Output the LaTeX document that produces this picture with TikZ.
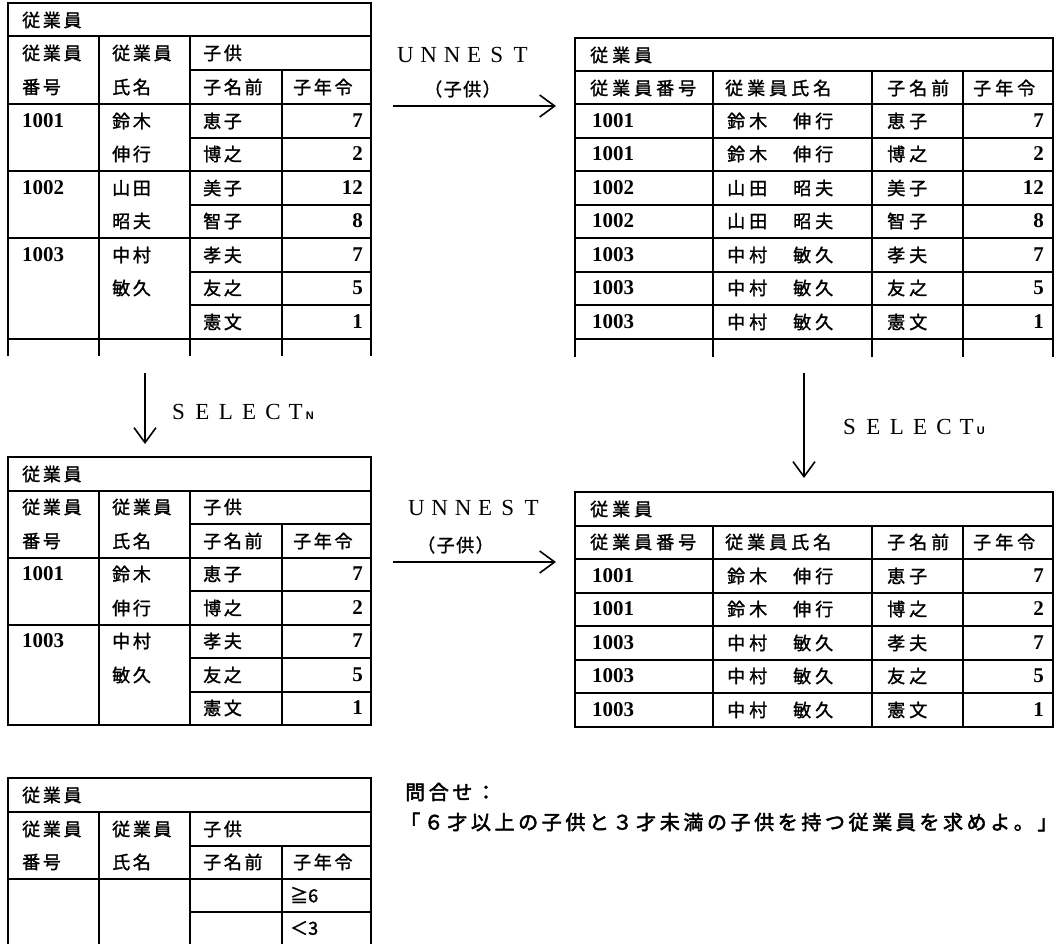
\documentclass[tikz,border=0pt]{standalone}
\usepackage{fontspec}
\usetikzlibrary{arrows.meta}
\newfontfamily\jp[FakeBold=1.5]{Noto Sans CJK JP}
\newfontfamily\jpq[FakeBold=2.5]{Noto Sans CJK JP}
\newfontfamily\ser{Liberation Serif}
\newfontfamily\sns{Liberation Sans}
\newlength\pitch
\makeatletter
\def\sptext#1{\spt@aux#1\@nil}
\def\spt@aux#1{\ifx#1\@nil\else\makebox[\pitch][l]{#1}\expandafter\spt@aux\fi}
\makeatother
\newcommand\fA{\jp\fontsize{18}{18}\selectfont\setlength\pitch{20.7pt}}
\newcommand\fB{\jp\fontsize{18}{18}\selectfont\setlength\pitch{22pt}}
\newcommand\fN{\ser\bfseries\fontsize{21}{21}\selectfont}
\newcommand\fL{\ser\fontsize{23}{23}\selectfont\setlength\pitch{23.3pt}}
\newcommand\fP{\jp\fontsize{18}{18}\selectfont\setlength\pitch{19.5pt}}
\newcommand\fQ{\jpq\fontsize{20}{20}\selectfont\setlength\pitch{23.6pt}}
\newcommand\subfont{\sns\bfseries\fontsize{11}{11}\selectfont}
\newcommand\nm[2]{\sptext{#1}\kern\pitch\sptext{#2}}
\tikzset{
  tl/.style={anchor=west, inner sep=0pt},
  tr/.style={anchor=east, inner sep=0pt},
  rule/.style={line width=2pt, line cap=rect},
  arr/.style={line width=1.6pt, -{Straight Barb[length=15pt,width=22pt]}},
}
\begin{document}
\begin{tikzpicture}[x=1pt,y=-1pt]
\useasboundingbox (0,0) rectangle (1058,943);
% ---------------- Table 1 ----------------
\draw[rule] (8,355) -- (8,3) -- (371,3) -- (371,355);
\draw[rule] (8,36) -- (371,36);
\draw[rule] (99,36) -- (99,355);
\draw[rule] (190,36) -- (190,355);
\draw[rule] (190,70) -- (371,70);
\draw[rule] (282,70) -- (282,355);
\foreach \yy in {104,171,238,338.5} \draw[rule] (8,\yy) -- (371,\yy);
\foreach \yy in {137.5,204.5,271.5,305} \draw[rule] (190,\yy) -- (371,\yy);
\node[tl,font=\fA] (t1ttl) at (22,20) {\sptext{従業員}};
\node[tl,font=\fA] (t1h1a) at (22,53) {\sptext{従業員}};
\node[tl,font=\fA] (t1h1b) at (22,87) {\sptext{番号}};
\node[tl,font=\fA] (t1h2a) at (112,53) {\sptext{従業員}};
\node[tl,font=\fA] (t1h2b) at (112,87) {\sptext{氏名}};
\node[tl,font=\fA] (t1h3) at (203,53) {\sptext{子供}};
\node[tl,font=\fA] (t1h4) at (203,87) {\sptext{子名前}};
\node[tl,font=\fA] (t1h5) at (293,87) {\sptext{子年令}};
\node[tl,font=\fN] (t1i1) at (22,121) {1001};
\node[tl,font=\fN] (t1i2) at (22,188) {1002};
\node[tl,font=\fN] (t1i3) at (22,255) {1003};
\node[tl,font=\fA] (t1n1) at (112,121) {\sptext{鈴木}};
\node[tl,font=\fA] (t1n2) at (112,154) {\sptext{伸行}};
\node[tl,font=\fA] (t1n3) at (112,188) {\sptext{山田}};
\node[tl,font=\fA] (t1n4) at (112,221) {\sptext{昭夫}};
\node[tl,font=\fA] (t1n5) at (112,255) {\sptext{中村}};
\node[tl,font=\fA] (t1n6) at (112,288) {\sptext{敏久}};
\node[tl,font=\fA] (t1c1) at (203,121) {\sptext{恵子}};
\node[tl,font=\fA] (t1c2) at (203,154) {\sptext{博之}};
\node[tl,font=\fA] (t1c3) at (203,188) {\sptext{美子}};
\node[tl,font=\fA] (t1c4) at (203,221) {\sptext{智子}};
\node[tl,font=\fA] (t1c5) at (203,255) {\sptext{孝夫}};
\node[tl,font=\fA] (t1c6) at (203,288) {\sptext{友之}};
\node[tl,font=\fA] (t1c7) at (203,322) {\sptext{憲文}};
\node[tr,font=\fN] (t1a1) at (363,121) {7};
\node[tr,font=\fN] (t1a2) at (363,154) {2};
\node[tr,font=\fN] (t1a3) at (363,188) {12};
\node[tr,font=\fN] (t1a4) at (363,221) {8};
\node[tr,font=\fN] (t1a5) at (363,255) {7};
\node[tr,font=\fN] (t1a6) at (363,288) {5};
\node[tr,font=\fN] (t1a7) at (363,322) {1};
% ---------------- Table 2 ----------------
\draw[rule] (575,356) -- (575,38) -- (1053,38) -- (1053,356);
\draw[rule] (575,71) -- (1053,71);
\foreach \xx in {713,872,963} \draw[rule] (\xx,71) -- (\xx,356);
\foreach \yy in {104,137.5,171,204.5,238,271.5,305,338.5} \draw[rule] (575,\yy) -- (1053,\yy);
\node[tl,font=\fB] (t2ttl) at (590,55) {\sptext{従業員}};
\node[tl,font=\fB] (t2h1) at (590,88) {\sptext{従業員番号}};
\node[tl,font=\fB] (t2h2) at (725,88) {\sptext{従業員氏名}};
\node[tl,font=\fB] (t2h3) at (887,88) {\sptext{子名前}};
\node[tl,font=\fB] (t2h4) at (973,88) {\sptext{子年令}};
\node[tl,font=\fN] (t2i1) at (592,121) {1001};
\node[tl,font=\fN] (t2i2) at (592,154) {1001};
\node[tl,font=\fN] (t2i3) at (592,188) {1002};
\node[tl,font=\fN] (t2i4) at (592,221) {1002};
\node[tl,font=\fN] (t2i5) at (592,255) {1003};
\node[tl,font=\fN] (t2i6) at (592,288) {1003};
\node[tl,font=\fN] (t2i7) at (592,322) {1003};
\node[tl,font=\fB] (t2n1) at (727,121) {\nm{鈴木}{伸行}};
\node[tl,font=\fB] (t2n2) at (727,154) {\nm{鈴木}{伸行}};
\node[tl,font=\fB] (t2n3) at (727,188) {\nm{山田}{昭夫}};
\node[tl,font=\fB] (t2n4) at (727,221) {\nm{山田}{昭夫}};
\node[tl,font=\fB] (t2n5) at (727,255) {\nm{中村}{敏久}};
\node[tl,font=\fB] (t2n6) at (727,288) {\nm{中村}{敏久}};
\node[tl,font=\fB] (t2n7) at (727,322) {\nm{中村}{敏久}};
\node[tl,font=\fB] (t2c1) at (887,121) {\sptext{恵子}};
\node[tl,font=\fB] (t2c2) at (887,154) {\sptext{博之}};
\node[tl,font=\fB] (t2c3) at (887,188) {\sptext{美子}};
\node[tl,font=\fB] (t2c4) at (887,221) {\sptext{智子}};
\node[tl,font=\fB] (t2c5) at (887,255) {\sptext{孝夫}};
\node[tl,font=\fB] (t2c6) at (887,288) {\sptext{友之}};
\node[tl,font=\fB] (t2c7) at (887,322) {\sptext{憲文}};
\node[tr,font=\fN] (t2a1) at (1044,121) {7};
\node[tr,font=\fN] (t2a2) at (1044,154) {2};
\node[tr,font=\fN] (t2a3) at (1044,188) {12};
\node[tr,font=\fN] (t2a4) at (1044,221) {8};
\node[tr,font=\fN] (t2a5) at (1044,255) {7};
\node[tr,font=\fN] (t2a6) at (1044,288) {5};
\node[tr,font=\fN] (t2a7) at (1044,322) {1};
% ---------------- Table 3 ----------------
\draw[rule] (8,457) rectangle (371,725);
\draw[rule] (8,490.5) -- (371,490.5);
\draw[rule] (99,490.5) -- (99,725);
\draw[rule] (190,490.5) -- (190,725);
\draw[rule] (190,524) -- (371,524);
\draw[rule] (282,524) -- (282,725);
\foreach \yy in {557.5,624.5} \draw[rule] (8,\yy) -- (371,\yy);
\foreach \yy in {591,658,691.5} \draw[rule] (190,\yy) -- (371,\yy);
\node[tl,font=\fA] (t3ttl) at (22,474) {\sptext{従業員}};
\node[tl,font=\fA] (t3h1a) at (22,507) {\sptext{従業員}};
\node[tl,font=\fA] (t3h1b) at (22,541) {\sptext{番号}};
\node[tl,font=\fA] (t3h2a) at (112,507) {\sptext{従業員}};
\node[tl,font=\fA] (t3h2b) at (112,541) {\sptext{氏名}};
\node[tl,font=\fA] (t3h3) at (203,507) {\sptext{子供}};
\node[tl,font=\fA] (t3h4) at (203,541) {\sptext{子名前}};
\node[tl,font=\fA] (t3h5) at (293,541) {\sptext{子年令}};
\node[tl,font=\fN] (t3i1) at (22,574) {1001};
\node[tl,font=\fN] (t3i2) at (22,641) {1003};
\node[tl,font=\fA] (t3n1) at (112,574) {\sptext{鈴木}};
\node[tl,font=\fA] (t3n2) at (112,608) {\sptext{伸行}};
\node[tl,font=\fA] (t3n3) at (112,641) {\sptext{中村}};
\node[tl,font=\fA] (t3n4) at (112,675) {\sptext{敏久}};
\node[tl,font=\fA] (t3c1) at (203,574) {\sptext{恵子}};
\node[tl,font=\fA] (t3c2) at (203,608) {\sptext{博之}};
\node[tl,font=\fA] (t3c3) at (203,641) {\sptext{孝夫}};
\node[tl,font=\fA] (t3c4) at (203,675) {\sptext{友之}};
\node[tl,font=\fA] (t3c5) at (203,708) {\sptext{憲文}};
\node[tr,font=\fN] (t3a1) at (363,574) {7};
\node[tr,font=\fN] (t3a2) at (363,608) {2};
\node[tr,font=\fN] (t3a3) at (363,641) {7};
\node[tr,font=\fN] (t3a4) at (363,675) {5};
\node[tr,font=\fN] (t3a5) at (363,708) {1};
% ---------------- Table 4 ----------------
\draw[rule] (575,492) rectangle (1053,726.5);
\draw[rule] (575,525.5) -- (1053,525.5);
\foreach \xx in {713,872,963} \draw[rule] (\xx,525.5) -- (\xx,726.5);
\foreach \yy in {559,592.5,626,659.5,693} \draw[rule] (575,\yy) -- (1053,\yy);
\node[tl,font=\fB] (t4ttl) at (590,509) {\sptext{従業員}};
\node[tl,font=\fB] (t4h1) at (590,542) {\sptext{従業員番号}};
\node[tl,font=\fB] (t4h2) at (725,542) {\sptext{従業員氏名}};
\node[tl,font=\fB] (t4h3) at (887,542) {\sptext{子名前}};
\node[tl,font=\fB] (t4h4) at (973,542) {\sptext{子年令}};
\node[tl,font=\fN] (t4i1) at (592,576) {1001};
\node[tl,font=\fN] (t4i2) at (592,609) {1001};
\node[tl,font=\fN] (t4i3) at (592,643) {1003};
\node[tl,font=\fN] (t4i4) at (592,676) {1003};
\node[tl,font=\fN] (t4i5) at (592,710) {1003};
\node[tl,font=\fB] (t4n1) at (727,576) {\nm{鈴木}{伸行}};
\node[tl,font=\fB] (t4n2) at (727,609) {\nm{鈴木}{伸行}};
\node[tl,font=\fB] (t4n3) at (727,643) {\nm{中村}{敏久}};
\node[tl,font=\fB] (t4n4) at (727,676) {\nm{中村}{敏久}};
\node[tl,font=\fB] (t4n5) at (727,710) {\nm{中村}{敏久}};
\node[tl,font=\fB] (t4c1) at (887,576) {\sptext{恵子}};
\node[tl,font=\fB] (t4c2) at (887,609) {\sptext{博之}};
\node[tl,font=\fB] (t4c3) at (887,643) {\sptext{孝夫}};
\node[tl,font=\fB] (t4c4) at (887,676) {\sptext{友之}};
\node[tl,font=\fB] (t4c5) at (887,710) {\sptext{憲文}};
\node[tr,font=\fN] (t4a1) at (1044,576) {7};
\node[tr,font=\fN] (t4a2) at (1044,609) {2};
\node[tr,font=\fN] (t4a3) at (1044,643) {7};
\node[tr,font=\fN] (t4a4) at (1044,676) {5};
\node[tr,font=\fN] (t4a5) at (1044,710) {1};
% ---------------- Table 5 ----------------
\draw[rule] (8,943) -- (8,778) -- (371,778) -- (371,943);
\draw[rule] (8,812) -- (371,812);
\draw[rule] (99,812) -- (99,943);
\draw[rule] (190,812) -- (190,943);
\draw[rule] (190,846) -- (371,846);
\draw[rule] (282,846) -- (282,943);
\draw[rule] (8,879) -- (371,879);
\draw[rule] (190,912) -- (371,912);
\node[tl,font=\fA] (t5ttl) at (22,795) {\sptext{従業員}};
\node[tl,font=\fA] (t5h1a) at (22,829) {\sptext{従業員}};
\node[tl,font=\fA] (t5h1b) at (22,862) {\sptext{番号}};
\node[tl,font=\fA] (t5h2a) at (112,829) {\sptext{従業員}};
\node[tl,font=\fA] (t5h2b) at (112,862) {\sptext{氏名}};
\node[tl,font=\fA] (t5h3) at (203,829) {\sptext{子供}};
\node[tl,font=\fA] (t5h4) at (203,862) {\sptext{子名前}};
\node[tl,font=\fA] (t5h5) at (293,862) {\sptext{子年令}};
\node[tl,font=\fP] (t5v1) at (290,895) {≧6};
\node[tl,font=\fP] (t5v2) at (290,928) {＜3};
% ---------------- Arrows and labels ----------------
\coordinate (u1s) at (393,106);
\coordinate (u1e) at (556,106);
\draw[arr] (u1s) -- (u1e);
\node[tl,font=\fL] (u1lbl) at (397,55) {\sptext{UNNES}T};
\node[tl,font=\fP] (u1arg) at (424,89) {\sptext{（子供）}};
\coordinate (u2s) at (393,562);
\coordinate (u2e) at (556,562);
\draw[arr] (u2s) -- (u2e);
\node[tl,font=\fL] (u2lbl) at (408,508) {\sptext{UNNES}T};
\node[tl,font=\fP] (u2arg) at (417,545) {\sptext{（子供）}};
\coordinate (snS) at (145,373);
\coordinate (snE) at (145,444);
\draw[arr] (snS) -- (snE);
\node[tl,font=\fL] (snlbl) at (172,412) {\sptext{SELEC}T\kern3pt{\subfont N}};
\coordinate (suS) at (804,373);
\coordinate (suE) at (804,478);
\draw[arr] (suS) -- (suE);
\node[tl,font=\fL] (sulbl) at (843,427) {\sptext{SELEC}T\kern3pt{\subfont U}};
% ---------------- Query ----------------
\node[tl,font=\fQ] (q1) at (405,792) {\sptext{問合せ：}};
\node[tl,font=\fQ] (q2) at (400,822) {\sptext{「６才以上の子供と３才未満の子供を持つ従業員を求めよ。」}};
\end{tikzpicture}
\end{document}
